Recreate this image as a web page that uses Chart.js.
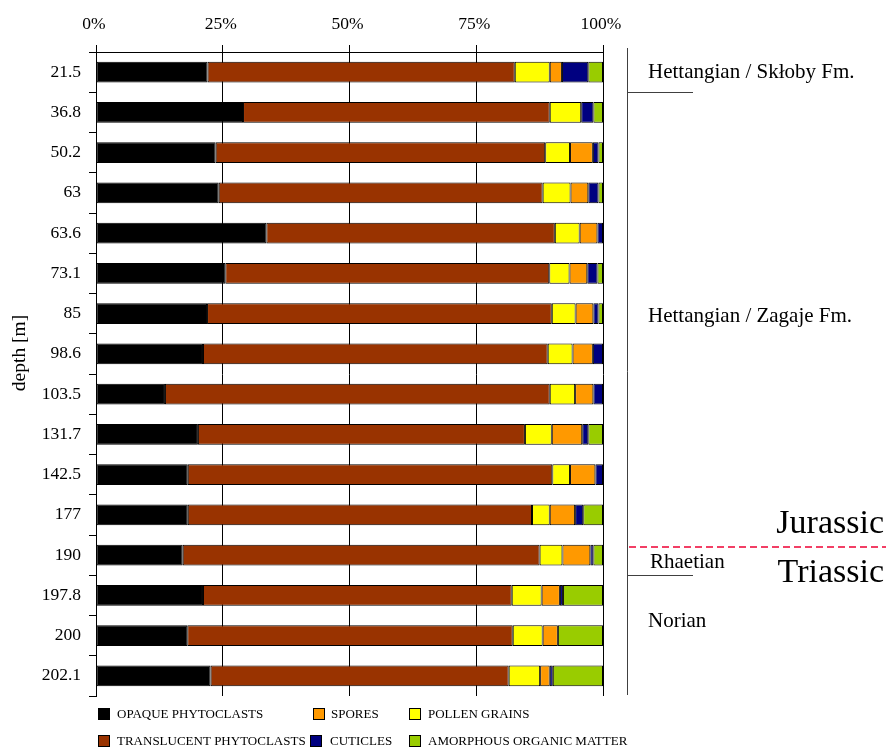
<!DOCTYPE html>
<html>
<head>
<meta charset="utf-8">
<title>Palynofacies composition by depth</title>
<script src="https://cdn.jsdelivr.net/npm/chart.js@4"></script>
<style>
  html, body { margin: 0; padding: 0; background: #ffffff; }
  #wrap { width: 888px; height: 747px; position: relative; }
</style>
</head>
<body>
<div id="wrap"><canvas id="chart"></canvas></div>
<script>
// Sample depths (m), top to bottom
const depths = ['21.5', '36.8', '50.2', '63', '63.6', '73.1', '85', '98.6', '103.5',
                '131.7', '142.5', '177', '190', '197.8', '200', '202.1'];

// Percentage of each palynofacies component per sample
const opaque       = [22.0, 29.0, 23.6, 24.2, 33.6, 25.5, 21.9, 21.1, 13.6, 20.1, 18.1, 18.1, 17.1, 21.1, 18.0, 22.6];
const translucent  = [60.6, 60.5, 65.0, 63.9, 56.9, 63.9, 68.0, 68.0, 75.9, 64.5, 71.9, 67.9, 70.4, 60.9, 64.2, 58.8];
const pollen       = [ 6.9,  6.2,  4.9,  5.5,  4.9,  4.0,  4.7,  4.9,  5.0,  5.3,  3.5,  3.5,  4.5,  5.9,  5.9,  6.2];
const spores       = [ 2.4,  0.0,  4.5,  3.5,  3.5,  3.5,  3.5,  4.0,  3.6,  6.0,  5.0,  5.0,  5.5,  3.6,  3.0,  1.9];
const cuticles     = [ 5.2,  2.4,  1.1,  2.0,  1.1,  2.0,  1.0,  2.0,  1.9,  1.2,  1.5,  1.6,  0.6,  0.6,  0.0,  0.6];
const amorphous    = [ 2.9,  1.9,  0.9,  0.9,  0.0,  1.1,  0.9,  0.0,  0.0,  2.9,  0.0,  3.9,  1.9,  7.9,  8.9,  9.9];

// Percentage axis ticks
const percentTicks = [0, 25, 50, 75, 100];

const SERIF = "'Liberation Serif', 'Times New Roman', Times, serif";

const series = [
  { label: 'OPAQUE PHYTOCLASTS',      data: opaque,      color: '#000000' },
  { label: 'TRANSLUCENT PHYTOCLASTS', data: translucent, color: '#993300' },
  { label: 'POLLEN GRAINS',           data: pollen,      color: '#ffff00' },
  { label: 'SPORES',                  data: spores,      color: '#ff9900' },
  { label: 'CUTICLES',                data: cuticles,    color: '#000080' },
  { label: 'AMORPHOUS ORGANIC MATTER',data: amorphous,   color: '#99cc00' }
];

// Legend grid: dataset index, box x, text x, row y
const legendItems = [
  { ds: 0, box: 98,  text: 117, y: 714 },
  { ds: 3, box: 313, text: 331, y: 714 },
  { ds: 2, box: 409, text: 428, y: 714 },
  { ds: 1, box: 98,  text: 117, y: 741 },
  { ds: 4, box: 310, text: 330, y: 741 },
  { ds: 5, box: 409, text: 428, y: 741 }
];

// Stratigraphic column drawn to the right of the bars
const stratigraphy = {
  id: 'stratigraphy',
  afterDraw(chart) {
    const { ctx, scales: { y } } = chart;
    const py = v => y.getPixelForValue(v);
    ctx.save();

    // column rule and unit boundaries
    ctx.strokeStyle = '#404040';
    ctx.lineWidth = 1;
    ctx.beginPath();
    ctx.moveTo(627.5, 48);
    ctx.lineTo(627.5, 695);
    for (const b of [0.5, 12.5]) {
      const yy = Math.round(py(b)) + 0.5;
      ctx.moveTo(628, yy);
      ctx.lineTo(693, yy);
    }
    ctx.stroke();

    // Jurassic / Triassic boundary
    ctx.strokeStyle = '#ee0033';
    ctx.lineWidth = 1.6;
    ctx.setLineDash([7, 4]);
    ctx.beginPath();
    const jy = Math.round(py(11.81));
    ctx.moveTo(629, jy);
    ctx.lineTo(886, jy);
    ctx.stroke();
    ctx.setLineDash([]);
    ctx.lineWidth = 1;

    ctx.fillStyle = '#000000';
    ctx.textBaseline = 'middle';
    ctx.textAlign = 'left';
    ctx.font = '21px ' + SERIF;
    ctx.fillText('Hettangian / Skłoby Fm.', 648, py(0.02));
    ctx.fillText('Hettangian / Zagaje Fm.', 648, py(6.07));
    ctx.fillText('Rhaetian', 650, py(12.18));
    ctx.fillText('Norian', 648, py(13.65));

    ctx.textAlign = 'right';
    ctx.font = '34px ' + SERIF;
    ctx.fillText('Jurassic', 884, py(11.24));
    ctx.fillText('Triassic', 884, py(12.44));

    // depth axis title
    ctx.save();
    ctx.translate(20, 353);
    ctx.rotate(-Math.PI / 2);
    ctx.textAlign = 'center';
    ctx.font = '19.5px ' + SERIF;
    ctx.fillText('depth [m]', 0, 0);
    ctx.restore();

    // legend
    ctx.textAlign = 'left';
    ctx.font = '13px ' + SERIF;
    for (const it of legendItems) {
      const ds = chart.data.datasets[it.ds];
      ctx.fillStyle = ds.backgroundColor;
      ctx.fillRect(it.box, it.y - 6, 12, 12);
      ctx.strokeStyle = '#000000';
      ctx.strokeRect(it.box + 0.5, it.y - 5.5, 11, 11);
      ctx.fillStyle = '#000000';
      ctx.fillText(ds.label, it.text, it.y + 1);
    }
    ctx.restore();
  }
};

new Chart(document.getElementById('chart'), {
  type: 'bar',
  data: {
    labels: depths,
    datasets: series.map(s => ({
      label: s.label,
      data: s.data,
      backgroundColor: s.color,
      borderColor: '#000000',
      borderWidth: 1,
      borderSkipped: false,
      categoryPercentage: 1.0,
      barPercentage: 0.51
    }))
  },
  options: {
    indexAxis: 'y',
    responsive: true,
    maintainAspectRatio: false,
    animation: false,
    layout: { padding: { left: 0, top: 0, right: 285, bottom: 51 } },
    plugins: {
      legend: { display: false },
      tooltip: { enabled: false }
    },
    scales: {
      x: {
        type: 'linear',
        position: 'top',
        stacked: true,
        min: 0,
        max: 100,
        afterBuildTicks: s => { s.ticks = percentTicks.map(v => ({ value: v })); },
        afterFit: s => { s.height = 52; },
        ticks: {
          callback: v => v + '%',
          color: '#000000',
          font: { family: SERIF, size: 17.5 },
          padding: 10,
          labelOffset: -2,
          maxRotation: 0
        },
        grid: {
          color: '#000000',
          lineWidth: 1,
          drawTicks: true,
          tickLength: 7,
          tickColor: '#000000'
        },
        border: { display: true, color: '#000000', width: 1 }
      },
      y: {
        stacked: true,
        afterFit: s => { s.width = 96; },
        ticks: {
          color: '#000000',
          font: { family: SERIF, size: 17.5 },
          padding: 8
        },
        grid: {
          offset: true,
          drawOnChartArea: false,
          drawTicks: true,
          tickLength: 7,
          tickColor: '#000000'
        },
        border: { display: true, color: '#000000', width: 1 }
      }
    }
  },
  plugins: [stratigraphy]
});
</script>
</body>
</html>
